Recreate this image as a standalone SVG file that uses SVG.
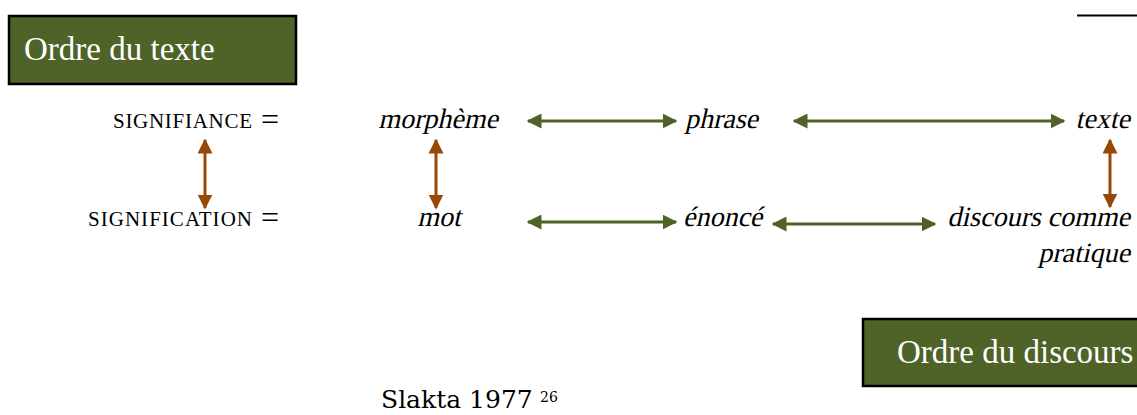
<svg xmlns="http://www.w3.org/2000/svg" width="1137" height="415" viewBox="0 0 1137 415">
  <defs>
    <marker id="headG" viewBox="0 0 10 10" refX="9" refY="5" markerWidth="5" markerHeight="5" orient="auto-start-reverse" markerUnits="strokeWidth">
      <path d="M0,0 L10,5 L0,10 Z" fill="#4f6228"/>
    </marker>
    <marker id="headB" viewBox="0 0 10 10" refX="9" refY="5" markerWidth="5" markerHeight="5" orient="auto-start-reverse" markerUnits="strokeWidth">
      <path d="M0,0 L10,5 L0,10 Z" fill="#984806"/>
    </marker>
    <style>
      .box { fill: #4f6228; stroke: #000; stroke-width: 2.5; }
      .boxtxt { font-family: "Liberation Serif", serif; font-size: 33px; fill: #fff; }
      .caps { font-family: "Liberation Serif", serif; font-size: 21px; fill: #000; }
      .eq { font-family: "Liberation Serif", serif; font-size: 32px; fill: #000; }
      .term { font-family: "Liberation Serif", serif; font-size: 28px; fill: #000; }
      .cite { font-family: "DejaVu Serif", "Liberation Serif", serif; font-size: 25px; fill: #000; }
      .sup { font-family: "DejaVu Serif", "Liberation Serif", serif; font-size: 14px; fill: #000; }
      .green { stroke: #4f6228; stroke-width: 3; fill: none; marker-start: url(#headG); marker-end: url(#headG); }
      .brown { stroke: #984806; stroke-width: 3; fill: none; marker-start: url(#headB); marker-end: url(#headB); }
    </style>
  </defs>

  <rect width="1137" height="415" fill="#fff"/>

  <!-- short rule, top right -->
  <line x1="1077" y1="15.5" x2="1137" y2="15.5" stroke="#000" stroke-width="2"/>

  <g id="ordre-texte">
    <rect class="box" x="9" y="16" width="287" height="68"/>
    <text class="boxtxt" x="24" y="60">Ordre du texte</text>
  </g>

  <g id="ordre-discours">
    <rect class="box" x="863" y="319" width="280" height="67"/>
    <text class="boxtxt" x="897" y="363">Ordre du discours</text>
  </g>

  <g id="signifiance">
    <text class="caps" x="252" y="128" text-anchor="end" textLength="139" lengthAdjust="spacing">SIGNIFIANCE</text>
    <text class="eq" x="261" y="130">=</text>
  </g>
  <g id="signification">
    <text class="caps" x="252" y="226" text-anchor="end" textLength="164" lengthAdjust="spacing">SIGNIFICATION</text>
    <text class="eq" x="261" y="228">=</text>
  </g>

  <!-- slanted terms: skewed about their own baseline -->
  <g id="morpheme"><text class="term" transform="translate(438,128) skewX(-13)" text-anchor="middle">morphème</text></g>
  <g id="phrase"><text class="term" transform="translate(685,128) skewX(-13)">phrase</text></g>
  <g id="texte"><text class="term" transform="translate(1130,128) skewX(-13)" text-anchor="end">texte</text></g>

  <g id="mot"><text class="term" transform="translate(439,226) skewX(-13)" text-anchor="middle">mot</text></g>
  <g id="enonce"><text class="term" transform="translate(683,226) skewX(-13)">énoncé</text></g>
  <g id="discours">
    <text class="term" transform="translate(1130,226) skewX(-13)" text-anchor="end">discours comme</text>
    <text class="term" transform="translate(1130,262) skewX(-13)" text-anchor="end">pratique</text>
  </g>

  <g id="citation">
    <text class="cite" x="381" y="408">Slakta 1977</text>
    <text class="sup" x="540" y="402">26</text>
  </g>

  <g id="connectors">
    <line class="green" x1="528" y1="121" x2="676" y2="121"/>
    <line class="green" x1="794" y1="121" x2="1064" y2="121"/>
    <line class="green" x1="528" y1="222" x2="676" y2="222"/>
    <line class="green" x1="773" y1="224" x2="935" y2="224"/>
    <line class="brown" x1="205" y1="140" x2="205" y2="208"/>
    <line class="brown" x1="436" y1="140" x2="436" y2="208"/>
    <line class="brown" x1="1110" y1="140" x2="1110" y2="207"/>
  </g>
</svg>
